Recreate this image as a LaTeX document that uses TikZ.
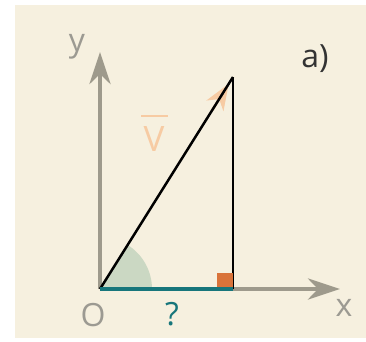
\documentclass[tikz,border=0pt]{standalone}
\usepackage{fontspec}
\setmainfont{Open Sans}
\usetikzlibrary{arrows.meta,calc}
\definecolor{cream}{HTML}{F6F0DF}
\definecolor{axisgray}{HTML}{9E9A8C}
\definecolor{labgray}{HTML}{9C9A92}
\definecolor{tealc}{HTML}{17767B}
\definecolor{orangec}{HTML}{D9733A}
\definecolor{sage}{HTML}{CBD8C3}
\definecolor{peach}{HTML}{F7CBA3}
\tikzset{
  axis/.style={draw=axisgray, line width=4.5pt, -{Stealth[length=32pt,width=21pt,inset=10pt]}},
  lab/.style={inner sep=0pt, font=\fontsize{32}{34}\selectfont, text=labgray},
  blackline/.style={draw=black, line width=2.5pt},
}
\begin{document}
\begin{tikzpicture}[x=1pt,y=-1pt]
\useasboundingbox (0,0) rectangle (366,341);
\fill[cream] (15,5) rectangle (366,338);
\coordinate (O) at (100,289);
\coordinate (Y) at (100,52);
\coordinate (X) at (340,289);
\coordinate (V) at (233,77);
\coordinate (F) at (233,289);
% angle sector
\fill[sage] (O) -- ++(52,0) arc[start angle=0, end angle=-57.9, radius=52] -- cycle;
% axes
\draw[axis] (O) -- (Y);
\draw[axis] (O) -- (X);
% peach arrowhead
\coordinate (Vt) at ($(V)!8pt!(O)$);
\draw[peach, line width=2.5pt, -{Stealth[length=26pt,width=20pt,inset=8pt]}] ($(V)!40pt!(O)$) -- (Vt);
% triangle
\draw[blackline] (O) -- (V);
\draw[blackline] (V) -- (F);
\draw[tealc, line width=4.5pt] (O) -- (F);
\fill[orangec] (217,273) rectangle (233,287);
% labels
\node[lab] (ly) at (77,47) {y};
\node[lab] (lx) at (344,308) {x};
\node[lab] (lo) at (93,315) {O};
\node[lab, text=tealc] (lq) at (172,314) {?};
\node[lab, text=peach, font=\fontsize{35}{36}\selectfont] (lv) at (154,139) {V};
\draw[peach, line width=1.8pt] (141,116) -- (168,116);
\node[lab, text=black!80] (la) at (315,59) {a)};
\end{tikzpicture}
\end{document}
